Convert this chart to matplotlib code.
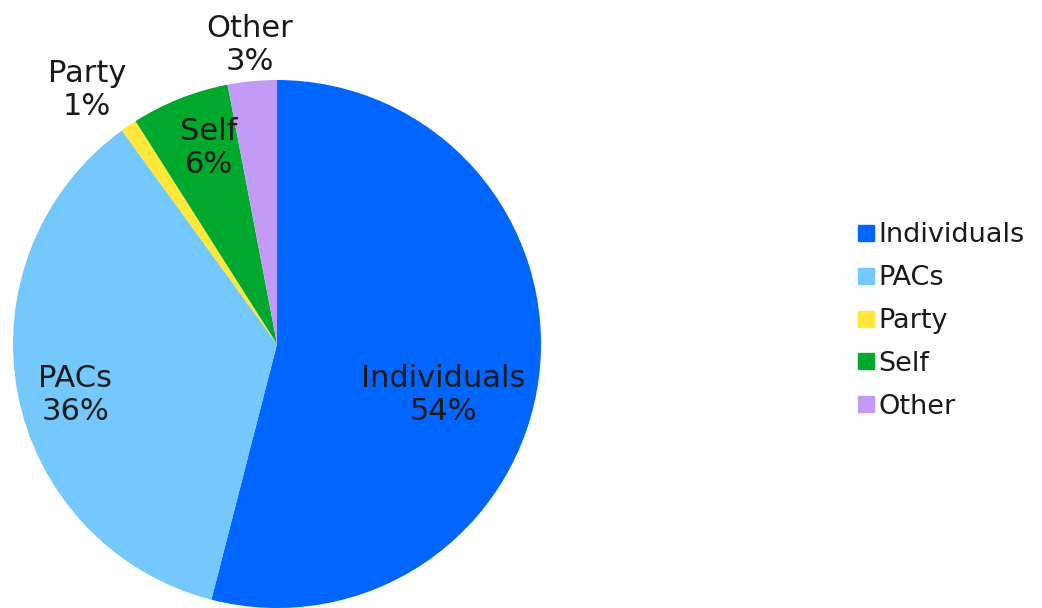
import matplotlib.pyplot as plt
from matplotlib.lines import Line2D

categories = ["Individuals", "PACs", "Party", "Self", "Other"]
shares = [54, 36, 1, 6, 3]
colors = ["#0066FF", "#75C8FC", "#FFE83A", "#00A82D", "#C39BF7"]
# label anchor positions (pie radius = 1)
label_pos = [(0.629, -0.193), (-0.765, -0.193), (-0.72, 0.962),
             (-0.258, 0.742), (-0.102, 1.133)]

fig = plt.figure(figsize=(10.42, 6.08), dpi=100)
ax = fig.add_axes([0.0125, 0.0, 0.5067, 0.8684])
wedges, _ = ax.pie(shares, colors=colors, startangle=90, counterclock=False,
                   radius=1, wedgeprops=dict(linewidth=0))
ax.set_xlim(-1, 1)
ax.set_ylim(-1, 1)
ax.set_aspect("equal")
ax.axis("off")

total = sum(shares)
for name, val, (x, y) in zip(categories, shares, label_pos):
    ax.text(x, y, f"{name}\n{val / total * 100:.0f}%", ha="center", va="center",
            fontsize=22, color="#1a1a1a", linespacing=1.2, clip_on=False)

handles = [Line2D([], [], marker="s", linestyle="none", markersize=11,
                  markerfacecolor=c, markeredgecolor=c) for c in colors]
fig.legend(handles, categories, loc="center left", bbox_to_anchor=(0.812, 0.472),
           frameon=False, fontsize=19.5, handlelength=0.45, handletextpad=0.25,
           labelspacing=0.62, labelcolor="#1a1a1a", borderpad=0)

fig.savefig("out.png", dpi=100)
